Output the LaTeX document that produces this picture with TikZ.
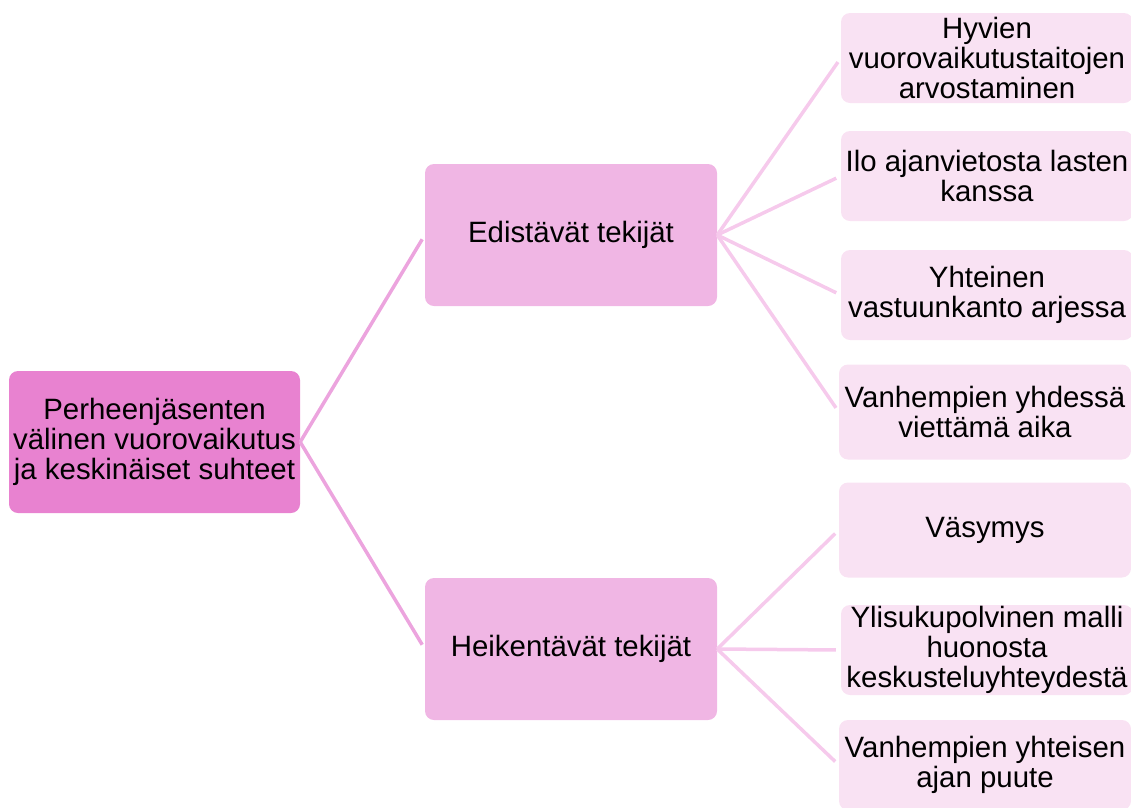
\documentclass[tikz,border=0pt]{standalone}
\usepackage{fontspec}
\setmainfont{Liberation Sans}
\definecolor{rootpink}{RGB}{232,130,208}
\definecolor{midpink}{RGB}{240,182,228}
\definecolor{leafpink}{RGB}{249,226,243}
\definecolor{linkmid}{RGB}{236,164,222}
\definecolor{linkleaf}{RGB}{246,202,236}

\begin{document}
\begin{tikzpicture}[x=1pt,y=-1pt,
  box/.style={rectangle,rounded corners=9pt,align=center,inner sep=0pt,
    font=\fontsize{29.4}{30}\selectfont},
  rootbox/.style={box,fill=rootpink,minimum width=291pt,minimum height=142pt},
  midbox/.style={box,fill=midpink,minimum width=292pt,minimum height=142pt},
  leafbox/.style={box,fill=leafpink,minimum width=292pt,minimum height=90pt},
  link/.style={line width=3.5pt,linkmid,shorten >=5pt},
  leaflink/.style={line width=3.5pt,linkleaf,shorten >=5pt}]

\useasboundingbox (0,0) rectangle (1131,807);

\node[rootbox] (root) at (154.5,442) {Perheenjäsenten\\välinen vuorovaikutus\\ja keskinäiset suhteet};

\node[midbox] (edist) at (571,235) {Edistävät tekijät};
\node[midbox] (heik) at (571,649) {Heikentävät tekijät};

\node[leafbox] (hyvien) at (987,58) {Hyvien\\vuorovaikutustaitojen\\arvostaminen};
\node[leafbox] (ilo) at (987,176) {Ilo ajanvietosta lasten\\kanssa};
\node[leafbox] (yhteinen) at (987,295) {Yhteinen\\vastuunkanto arjessa};
\node[leafbox,minimum height=95pt] (yhdessa) at (985,412) {Vanhempien yhdessä\\viettämä aika};
\node[leafbox,minimum height=95pt] (vasymys) at (985,530) {Väsymys};
\node[leafbox] (malli) at (987,650) {Ylisukupolvinen malli\\huonosta\\keskusteluyhteydestä};
\node[leafbox] (puute) at (985,765) {Vanhempien yhteisen\\ajan puute};

\draw[link] (root.east) -- (edist.west);
\draw[link] (root.east) -- (heik.west);

\draw[leaflink] (edist.east) -- (hyvien.west);
\draw[leaflink] (edist.east) -- (ilo.west);
\draw[leaflink] (edist.east) -- (yhteinen.west);
\draw[leaflink] (edist.east) -- (yhdessa.west);

\draw[leaflink] (heik.east) -- (vasymys.west);
\draw[leaflink] (heik.east) -- (malli.west);
\draw[leaflink] (heik.east) -- (puute.west);
\end{tikzpicture}
\end{document}
